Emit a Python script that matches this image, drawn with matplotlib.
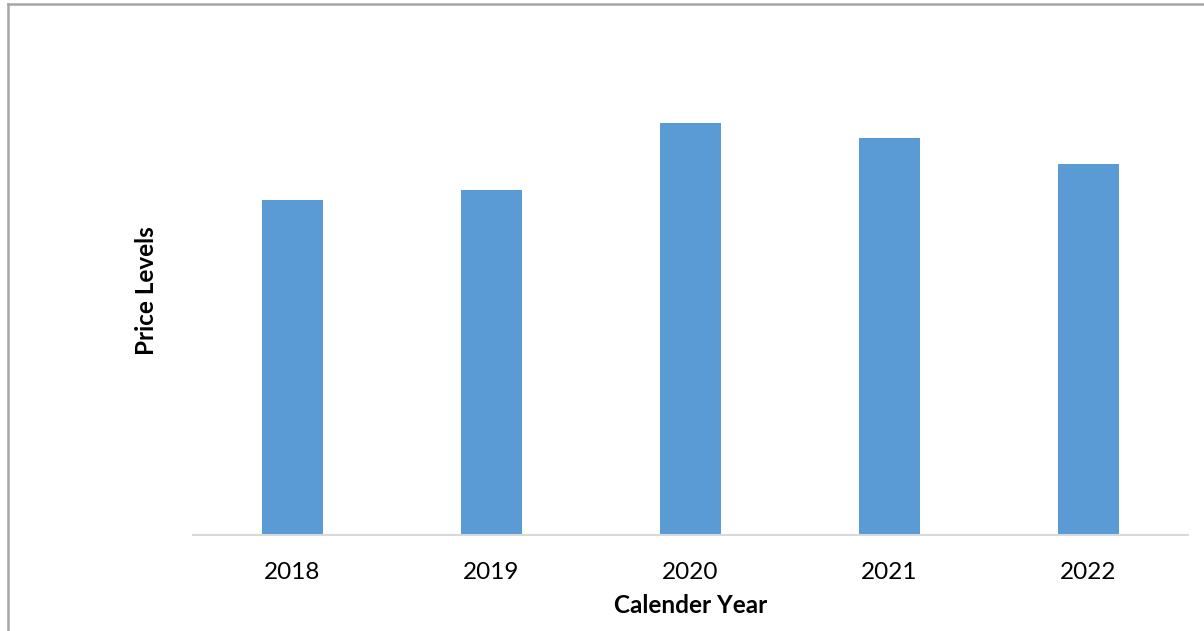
import matplotlib
matplotlib.use("Agg")
import matplotlib.pyplot as plt
from matplotlib.lines import Line2D

years = ["2018", "2019", "2020", "2021", "2022"]
price_levels = [335, 345, 412, 397, 371]

plt.rcParams['font.family'] = ['Lato', 'DejaVu Sans']

fig = plt.figure(figsize=(12.04, 6.31), dpi=100)
W, H = 1204, 631
left, right = 193 / W, 1188 / W
bottom, top = 1 - 534.5 / H, 1 - 20 / H
ax = fig.add_axes([left, bottom, right - left, top - bottom])

x = range(len(years))
ax.bar(x, price_levels, width=0.31, color="#5b9bd5", zorder=2)
ax.set_xlim(-0.5, len(years) - 0.5)
ax.set_ylim(0, 514.5)
ax.set_xticks(list(x))
ax.set_xticklabels(years, fontsize=17.5)
ax.tick_params(axis='x', length=0, pad=20)
ax.set_yticks([])
for s in ['top', 'right', 'left']:
    ax.spines[s].set_visible(False)
ax.spines['bottom'].set_color('#d9d9d9')
ax.spines['bottom'].set_linewidth(1.5)

ax.set_xlabel("Calender Year", fontsize=17.5, fontweight='bold', labelpad=8)
fig.text(146 / W, 1 - 291 / H, "Price Levels", rotation=90, fontsize=17.5,
         fontweight='bold', ha='center', va='center')

# outer border (top and left visible)
fig.add_artist(Line2D([8 / W, 8 / W], [0, 1 - 4 / H], transform=fig.transFigure,
                      color='#a6a6a6', linewidth=1.8))
fig.add_artist(Line2D([8 / W, 1], [1 - 4 / H, 1 - 4 / H], transform=fig.transFigure,
                      color='#a6a6a6', linewidth=1.8))

fig.savefig("out.png", dpi=100)
